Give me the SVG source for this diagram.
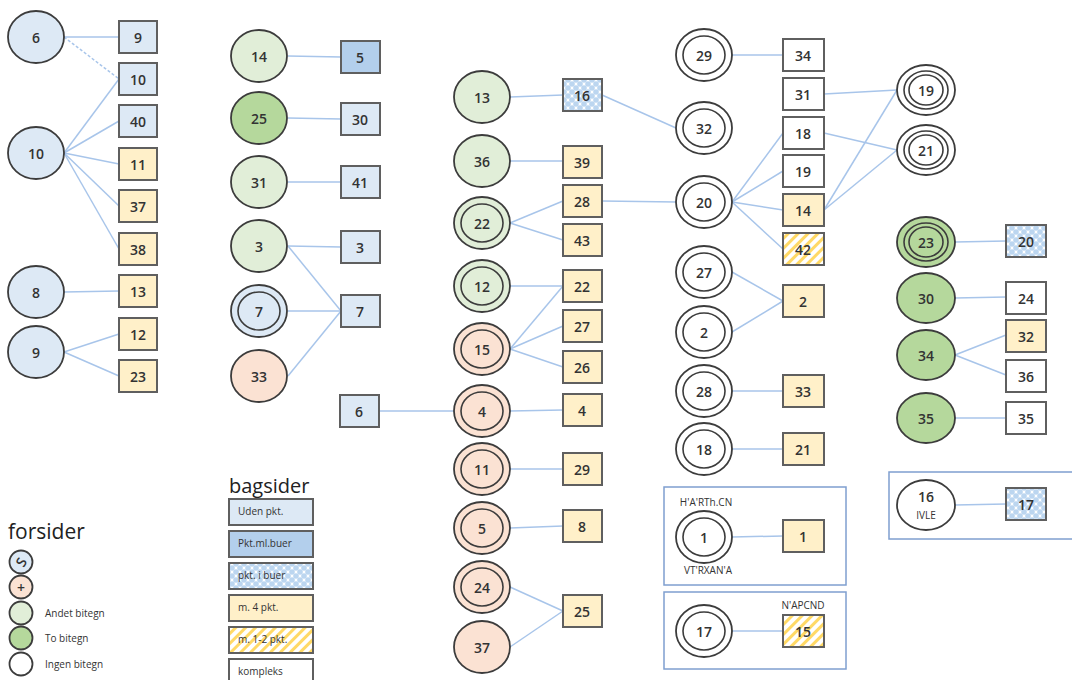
<svg xmlns="http://www.w3.org/2000/svg" width="1072" height="680" viewBox="0 0 1072 680">
<defs>
<pattern id="dots" width="8" height="8" patternUnits="userSpaceOnUse">
<rect width="8" height="8" fill="#ffffff"/>
<circle cx="0" cy="0" r="2.8" fill="#bcd6f0"/><circle cx="8" cy="0" r="2.8" fill="#bcd6f0"/><circle cx="0" cy="8" r="2.8" fill="#bcd6f0"/><circle cx="8" cy="8" r="2.8" fill="#bcd6f0"/><circle cx="4" cy="4" r="2.8" fill="#bcd6f0"/>
</pattern>
<pattern id="hatch" width="7" height="7" patternUnits="userSpaceOnUse" patternTransform="rotate(45)">
<rect width="7" height="7" fill="#ffffff"/>
<rect width="3" height="7" fill="#ffd966"/>
</pattern>
</defs>
<style>
.c{stroke:#3c3c3c;stroke-width:1.8}
.b{stroke:#5f5f5f;stroke-width:2}
.blue{fill:#dde9f5}
.mblue{fill:#b3cfec}
.yel{fill:#fff0c9}
.lg{fill:#e1eed8}
.dg{fill:#b5d89c}
.sal{fill:#fbe2d3}
.wh{fill:#ffffff}
.dot{fill:url(#dots)}
.hat{fill:url(#hatch)}
.in{fill:none;stroke:#3c3c3c;stroke-width:1.6}
.t{font-family:"Open Sans","Liberation Sans",sans-serif;font-size:14px;font-weight:600;fill:#333;text-anchor:middle;dominant-baseline:central}
.s{font-family:"Open Sans","Liberation Sans",sans-serif;font-size:10px;fill:#333}
.fr{fill:none;stroke:#7f9fcf;stroke-width:1.5}
#connectors line{stroke:#a8c5ea;stroke-width:1.5}
</style>
<rect width="1072" height="680" fill="#ffffff"/>
<g id="frames">
<rect class="fr" x="664" y="487" width="182" height="98"/>
<rect class="fr" x="664" y="592" width="182" height="77"/>
<rect class="fr" x="889" y="472" width="200" height="67"/>
</g>
<g id="connectors">
<line x1="64" y1="37" x2="119" y2="37"/>
<line x1="64" y1="37" x2="119" y2="79" stroke-dasharray="3 2"/>
<line x1="64" y1="153" x2="119" y2="79"/>
<line x1="64" y1="153" x2="119" y2="121"/>
<line x1="64" y1="153" x2="119" y2="164"/>
<line x1="64" y1="153" x2="119" y2="206"/>
<line x1="64" y1="153" x2="119" y2="249"/>
<line x1="64" y1="292" x2="119" y2="291"/>
<line x1="64" y1="352" x2="119" y2="334"/>
<line x1="64" y1="352" x2="119" y2="376"/>
<line x1="288" y1="56" x2="341" y2="57"/>
<line x1="288" y1="118" x2="341" y2="119"/>
<line x1="288" y1="182" x2="341" y2="182"/>
<line x1="288" y1="246" x2="341" y2="247"/>
<line x1="288" y1="246" x2="341" y2="311"/>
<line x1="288" y1="311" x2="341" y2="311"/>
<line x1="288" y1="376" x2="341" y2="311"/>
<line x1="510" y1="97" x2="563" y2="95"/>
<line x1="602" y1="95" x2="676" y2="128"/>
<line x1="510" y1="161" x2="563" y2="161"/>
<line x1="510" y1="223" x2="563" y2="201"/>
<line x1="510" y1="223" x2="563" y2="240"/>
<line x1="602" y1="201" x2="676" y2="202"/>
<line x1="510" y1="286" x2="563" y2="286"/>
<line x1="510" y1="349" x2="563" y2="286"/>
<line x1="510" y1="349" x2="563" y2="326"/>
<line x1="510" y1="349" x2="563" y2="367"/>
<line x1="379" y1="411" x2="454" y2="411"/>
<line x1="510" y1="411" x2="563" y2="410"/>
<line x1="510" y1="469" x2="563" y2="469"/>
<line x1="510" y1="528" x2="563" y2="526"/>
<line x1="510" y1="587" x2="563" y2="611"/>
<line x1="510" y1="647" x2="563" y2="611"/>
<line x1="732" y1="55" x2="783" y2="55"/>
<line x1="732" y1="202" x2="783" y2="133"/>
<line x1="732" y1="202" x2="783" y2="171"/>
<line x1="732" y1="202" x2="783" y2="210"/>
<line x1="732" y1="202" x2="783" y2="249"/>
<line x1="824" y1="94" x2="897" y2="90"/>
<line x1="824" y1="133" x2="897" y2="150"/>
<line x1="824" y1="210" x2="897" y2="90"/>
<line x1="824" y1="210" x2="897" y2="150"/>
<line x1="732" y1="272" x2="783" y2="301"/>
<line x1="732" y1="332" x2="783" y2="301"/>
<line x1="732" y1="391" x2="783" y2="391"/>
<line x1="732" y1="449" x2="783" y2="449"/>
<line x1="732" y1="537" x2="783" y2="536"/>
<line x1="732" y1="631" x2="783" y2="631"/>
<line x1="955" y1="242" x2="1006" y2="241"/>
<line x1="955" y1="298" x2="1006" y2="297"/>
<line x1="955" y1="355" x2="1006" y2="335"/>
<line x1="955" y1="355" x2="1006" y2="375"/>
<line x1="955" y1="418" x2="1006" y2="418"/>
<line x1="955" y1="505" x2="1006" y2="504"/>
</g>
<!-- column 1 -->
<g id="f6"><ellipse class="c blue" cx="36" cy="37" rx="28" ry="26"/><text class="t" x="36" y="37">6</text></g>
<g id="f10"><ellipse class="c blue" cx="36" cy="153" rx="28" ry="26"/><text class="t" x="36" y="153">10</text></g>
<g id="f8"><ellipse class="c blue" cx="36" cy="292" rx="28" ry="26"/><text class="t" x="36" y="292">8</text></g>
<g id="f9"><ellipse class="c blue" cx="36" cy="352" rx="28" ry="26"/><text class="t" x="36" y="352">9</text></g>
<g id="b9"><rect class="b blue" x="119" y="21" width="38" height="32"/><text class="t" x="138" y="37">9</text></g>
<g id="b10"><rect class="b blue" x="119" y="63" width="38" height="32"/><text class="t" x="138" y="79">10</text></g>
<g id="b40"><rect class="b blue" x="119" y="105" width="38" height="32"/><text class="t" x="138" y="121">40</text></g>
<g id="b11"><rect class="b yel" x="119" y="148" width="38" height="32"/><text class="t" x="138" y="164">11</text></g>
<g id="b37"><rect class="b yel" x="119" y="190" width="38" height="32"/><text class="t" x="138" y="206">37</text></g>
<g id="b38"><rect class="b yel" x="119" y="233" width="38" height="32"/><text class="t" x="138" y="249">38</text></g>
<g id="b13"><rect class="b yel" x="119" y="275" width="38" height="32"/><text class="t" x="138" y="291">13</text></g>
<g id="b12"><rect class="b yel" x="119" y="318" width="38" height="32"/><text class="t" x="138" y="334">12</text></g>
<g id="b23"><rect class="b yel" x="119" y="360" width="38" height="32"/><text class="t" x="138" y="376">23</text></g>
<!-- column 2 -->
<g id="f14"><ellipse class="c lg" cx="259" cy="56" rx="28" ry="26"/><text class="t" x="259" y="56">14</text></g>
<g id="f25"><ellipse class="c dg" cx="259" cy="118" rx="28" ry="26"/><text class="t" x="259" y="118">25</text></g>
<g id="f31"><ellipse class="c lg" cx="259" cy="182" rx="28" ry="26"/><text class="t" x="259" y="182">31</text></g>
<g id="f3"><ellipse class="c lg" cx="259" cy="246" rx="28" ry="26"/><text class="t" x="259" y="246">3</text></g>
<g id="f7"><ellipse class="c blue" cx="259" cy="311" rx="28" ry="26"/><ellipse class="in" cx="259" cy="311" rx="21" ry="19"/><text class="t" x="259" y="311">7</text></g>
<g id="f33"><ellipse class="c sal" cx="259" cy="376" rx="28" ry="26"/><text class="t" x="259" y="376">33</text></g>
<g id="b5"><rect class="b mblue" x="341" y="41" width="39" height="32"/><text class="t" x="360" y="57">5</text></g>
<g id="b30"><rect class="b blue" x="341" y="103" width="39" height="32"/><text class="t" x="360" y="119">30</text></g>
<g id="b41"><rect class="b blue" x="341" y="166" width="39" height="32"/><text class="t" x="360" y="182">41</text></g>
<g id="b3"><rect class="b blue" x="341" y="231" width="39" height="32"/><text class="t" x="360" y="247">3</text></g>
<g id="b7"><rect class="b blue" x="341" y="295" width="39" height="32"/><text class="t" x="360" y="311">7</text></g>
<g id="b6"><rect class="b blue" x="340" y="395" width="39" height="32"/><text class="t" x="359" y="411">6</text></g>
<!-- column 3 -->
<g id="f13"><ellipse class="c lg" cx="482" cy="97" rx="28" ry="26"/><text class="t" x="482" y="97">13</text></g>
<g id="f36"><ellipse class="c lg" cx="482" cy="161" rx="28" ry="26"/><text class="t" x="482" y="161">36</text></g>
<g id="f22"><ellipse class="c lg" cx="482" cy="223" rx="28" ry="26"/><ellipse class="in" cx="482" cy="223" rx="21" ry="19"/><text class="t" x="482" y="223">22</text></g>
<g id="f12"><ellipse class="c lg" cx="482" cy="286" rx="28" ry="26"/><ellipse class="in" cx="482" cy="286" rx="21" ry="19"/><text class="t" x="482" y="286">12</text></g>
<g id="f15"><ellipse class="c sal" cx="482" cy="349" rx="28" ry="26"/><ellipse class="in" cx="482" cy="349" rx="21" ry="19"/><text class="t" x="482" y="349">15</text></g>
<g id="f4"><ellipse class="c sal" cx="482" cy="411" rx="28" ry="26"/><ellipse class="in" cx="482" cy="411" rx="21" ry="19"/><text class="t" x="482" y="411">4</text></g>
<g id="f11"><ellipse class="c sal" cx="482" cy="469" rx="28" ry="26"/><ellipse class="in" cx="482" cy="469" rx="21" ry="19"/><text class="t" x="482" y="469">11</text></g>
<g id="f5"><ellipse class="c sal" cx="482" cy="528" rx="28" ry="26"/><ellipse class="in" cx="482" cy="528" rx="21" ry="19"/><text class="t" x="482" y="528">5</text></g>
<g id="f24"><ellipse class="c sal" cx="482" cy="587" rx="28" ry="26"/><ellipse class="in" cx="482" cy="587" rx="21" ry="19"/><text class="t" x="482" y="587">24</text></g>
<g id="f37"><ellipse class="c sal" cx="482" cy="647" rx="28" ry="26"/><text class="t" x="482" y="647">37</text></g>
<g id="b16"><rect class="b dot" x="563" y="79" width="39" height="32"/><text class="t" x="582" y="95">16</text></g>
<g id="b39"><rect class="b yel" x="563" y="146" width="39" height="32"/><text class="t" x="582" y="162">39</text></g>
<g id="b28"><rect class="b yel" x="563" y="185" width="39" height="32"/><text class="t" x="582" y="201">28</text></g>
<g id="b43"><rect class="b yel" x="563" y="224" width="39" height="32"/><text class="t" x="582" y="240">43</text></g>
<g id="b22"><rect class="b yel" x="563" y="270" width="39" height="32"/><text class="t" x="582" y="286">22</text></g>
<g id="b27"><rect class="b yel" x="563" y="310" width="39" height="32"/><text class="t" x="582" y="326">27</text></g>
<g id="b26"><rect class="b yel" x="563" y="351" width="39" height="32"/><text class="t" x="582" y="367">26</text></g>
<g id="b4"><rect class="b yel" x="563" y="394" width="39" height="32"/><text class="t" x="582" y="410">4</text></g>
<g id="b29"><rect class="b yel" x="563" y="453" width="39" height="32"/><text class="t" x="582" y="469">29</text></g>
<g id="b8"><rect class="b yel" x="563" y="510" width="39" height="32"/><text class="t" x="582" y="526">8</text></g>
<g id="b25"><rect class="b yel" x="563" y="595" width="39" height="32"/><text class="t" x="582" y="611">25</text></g>
<!-- column 4 -->
<g id="f29"><ellipse class="c wh" cx="704" cy="55" rx="28" ry="26"/><ellipse class="in" cx="704" cy="55" rx="21" ry="19"/><text class="t" x="704" y="55">29</text></g>
<g id="f32"><ellipse class="c wh" cx="704" cy="128" rx="28" ry="26"/><ellipse class="in" cx="704" cy="128" rx="21" ry="19"/><text class="t" x="704" y="128">32</text></g>
<g id="f20"><ellipse class="c wh" cx="704" cy="202" rx="28" ry="26"/><ellipse class="in" cx="704" cy="202" rx="21" ry="19"/><text class="t" x="704" y="202">20</text></g>
<g id="f27"><ellipse class="c wh" cx="704" cy="272" rx="28" ry="26"/><ellipse class="in" cx="704" cy="272" rx="21" ry="19"/><text class="t" x="704" y="272">27</text></g>
<g id="f2"><ellipse class="c wh" cx="704" cy="332" rx="28" ry="26"/><ellipse class="in" cx="704" cy="332" rx="21" ry="19"/><text class="t" x="704" y="332">2</text></g>
<g id="f28"><ellipse class="c wh" cx="704" cy="391" rx="28" ry="26"/><ellipse class="in" cx="704" cy="391" rx="21" ry="19"/><text class="t" x="704" y="391">28</text></g>
<g id="f18"><ellipse class="c wh" cx="704" cy="449" rx="28" ry="26"/><ellipse class="in" cx="704" cy="449" rx="21" ry="19"/><text class="t" x="704" y="449">18</text></g>
<g id="f1"><ellipse class="c wh" cx="704" cy="537" rx="28" ry="26"/><ellipse class="in" cx="704" cy="537" rx="21" ry="19"/><text class="t" x="704" y="537">1</text>
<text class="s" x="706" y="506" text-anchor="middle" font-size="9">H'A'RTh.CN</text>
<text class="s" x="708" y="574" text-anchor="middle" font-size="9">VT'RXAN'A</text></g>
<g id="f17"><ellipse class="c wh" cx="704" cy="631" rx="28" ry="26"/><ellipse class="in" cx="704" cy="631" rx="21" ry="19"/><text class="t" x="704" y="631">17</text></g>
<g id="b34"><rect class="b wh" x="783" y="39" width="41" height="32"/><text class="t" x="803" y="55">34</text></g>
<g id="b31"><rect class="b wh" x="783" y="78" width="41" height="32"/><text class="t" x="803" y="94">31</text></g>
<g id="b18"><rect class="b wh" x="783" y="117" width="41" height="32"/><text class="t" x="803" y="133">18</text></g>
<g id="b19"><rect class="b wh" x="783" y="155" width="41" height="32"/><text class="t" x="803" y="171">19</text></g>
<g id="b14"><rect class="b yel" x="783" y="194" width="41" height="32"/><text class="t" x="803" y="210">14</text></g>
<g id="b42"><rect class="b hat" x="783" y="233" width="41" height="32"/><text class="t" x="803" y="249">42</text></g>
<g id="b2"><rect class="b yel" x="783" y="285" width="41" height="32"/><text class="t" x="803" y="301">2</text></g>
<g id="b33"><rect class="b yel" x="783" y="375" width="41" height="32"/><text class="t" x="803" y="391">33</text></g>
<g id="b21"><rect class="b yel" x="783" y="433" width="41" height="32"/><text class="t" x="803" y="449">21</text></g>
<g id="b1"><rect class="b yel" x="783" y="520" width="41" height="32"/><text class="t" x="803" y="536">1</text></g>
<g id="b15"><rect class="b hat" x="783" y="615" width="41" height="32"/><text class="t" x="803" y="631">15</text>
<text class="s" x="803" y="609" text-anchor="middle" font-size="9">N'APCND</text></g>
<!-- column 5 -->
<g id="f19"><ellipse class="c wh" cx="926" cy="90" rx="29" ry="25"/><ellipse class="in" cx="926" cy="90" rx="22" ry="19"/><ellipse class="in" cx="926" cy="90" rx="17" ry="15"/><text class="t" x="926" y="90">19</text></g>
<g id="f21"><ellipse class="c wh" cx="926" cy="150" rx="29" ry="25"/><ellipse class="in" cx="926" cy="150" rx="22" ry="19"/><ellipse class="in" cx="926" cy="150" rx="17" ry="15"/><text class="t" x="926" y="150">21</text></g>
<g id="f23"><ellipse class="c dg" cx="926" cy="242" rx="29" ry="25"/><ellipse class="in" cx="926" cy="242" rx="22" ry="19"/><ellipse class="in" cx="926" cy="242" rx="17" ry="15"/><text class="t" x="926" y="242">23</text></g>
<g id="f30"><ellipse class="c dg" cx="926" cy="298" rx="29" ry="25"/><text class="t" x="926" y="298">30</text></g>
<g id="f34"><ellipse class="c dg" cx="926" cy="355" rx="29" ry="25"/><text class="t" x="926" y="355">34</text></g>
<g id="f35"><ellipse class="c dg" cx="926" cy="418" rx="29" ry="25"/><text class="t" x="926" y="418">35</text></g>
<g id="f16"><ellipse class="c wh" cx="926" cy="505" rx="29" ry="25"/><text class="t" x="926" y="496">16</text><text class="s" x="926" y="519" text-anchor="middle" font-size="7.5">IVLE</text></g>
<g id="b20"><rect class="b dot" x="1006" y="225" width="40" height="32"/><text class="t" x="1026" y="241">20</text></g>
<g id="b24"><rect class="b wh" x="1006" y="282" width="40" height="32"/><text class="t" x="1026" y="298">24</text></g>
<g id="b32"><rect class="b yel" x="1006" y="320" width="40" height="32"/><text class="t" x="1026" y="336">32</text></g>
<g id="b36"><rect class="b wh" x="1006" y="360" width="40" height="32"/><text class="t" x="1026" y="376">36</text></g>
<g id="b35"><rect class="b wh" x="1006" y="402" width="40" height="32"/><text class="t" x="1026" y="418">35</text></g>
<g id="b17"><rect class="b dot" x="1006" y="488" width="40" height="32"/><text class="t" x="1026" y="504">17</text></g>
<!-- legend forsider -->
<g id="legend-forsider">
<text x="8" y="539" font-family="'Open Sans','Liberation Sans',sans-serif" font-size="21" fill="#222">forsider</text>
<circle class="c blue" cx="21" cy="562" r="11.5"/><text class="t" x="21" y="562" font-size="12" transform="rotate(-60 21 562)">S</text>
<circle class="c sal" cx="21" cy="587" r="11.5"/><text class="t" x="21" y="587" font-size="14">+</text>
<circle class="c lg" cx="21" cy="613" r="11.5"/><text class="s" x="45" y="617" font-size="11">Andet bitegn</text>
<circle class="c dg" cx="21" cy="638" r="11.5"/><text class="s" x="45" y="642" font-size="11">To bitegn</text>
<circle class="c wh" cx="21" cy="664" r="11.5"/><text class="s" x="45" y="668" font-size="11">Ingen bitegn</text>
</g>
<!-- legend bagsider -->
<g id="legend-bagsider">
<text x="229" y="493" font-family="'Open Sans','Liberation Sans',sans-serif" font-size="20" fill="#222">bagsider</text>
<rect class="b blue" x="229" y="499" width="84" height="26"/><text class="s" x="238" y="515">Uden pkt.</text>
<rect class="b mblue" x="229" y="531" width="84" height="26"/><text class="s" x="238" y="547">Pkt.ml.buer</text>
<rect class="b dot" x="229" y="563" width="84" height="26"/><text class="s" x="238" y="579">pkt. i buer</text>
<rect class="b yel" x="229" y="595" width="84" height="26"/><text class="s" x="238" y="611">m. 4 pkt.</text>
<rect class="b hat" x="229" y="627" width="84" height="26"/><text class="s" x="238" y="643">m. 1-2 pkt.</text>
<rect class="b wh" x="229" y="659" width="84" height="26"/><text class="s" x="238" y="675">kompleks</text>
</g>
</svg>
